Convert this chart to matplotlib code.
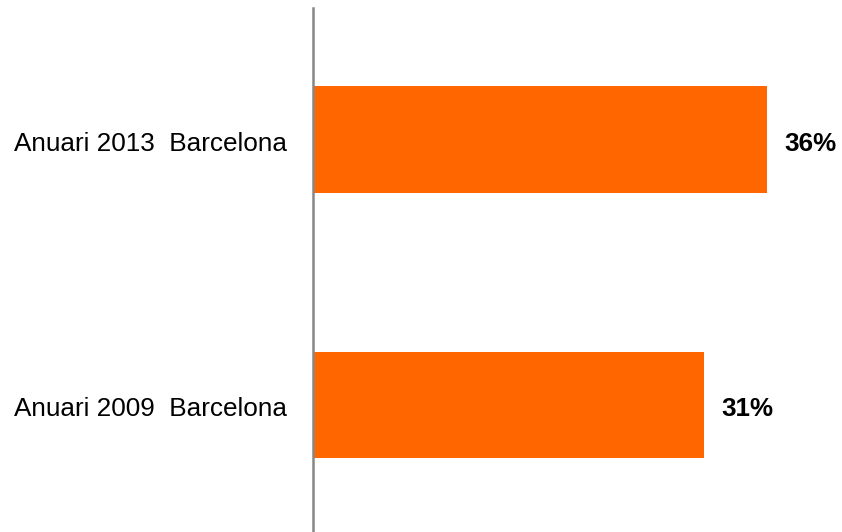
import matplotlib
matplotlib.use("Agg")
import matplotlib.pyplot as plt
from matplotlib.transforms import ScaledTranslation

categories = ["Anuari 2009  Barcelona", "Anuari 2013  Barcelona"]
values = [31, 36]
value_labels = ["31%", "36%"]

plt.rcParams['font.family'] = ['Liberation Sans', 'DejaVu Sans']

W, H = 842, 532
fig = plt.figure(figsize=(W / 100, H / 100), dpi=100)
# axes from x=313 to 842, y from 7 to 537 (pixels from top)
ax = fig.add_axes([313 / W, (H - 537) / H, (W - 313) / W, 530 / H])

ax.barh(range(len(categories)), values, height=0.4, color="#FF6600")
ax.set_xlim(0, (W - 313) / 12.6)
ax.set_ylim(-0.5, 1.5)

for i, (v, lab) in enumerate(zip(values, value_labels)):
    ax.annotate(lab, (v, i), xytext=(13, -3.3), textcoords="offset points",
                ha="left", va="center", fontsize=18.7, fontweight="bold", color="black")

ax.set_yticks(range(len(categories)))
ax.set_yticklabels(categories, fontsize=18.8)
ax.tick_params(axis="y", length=0, pad=18.5)
shift = ScaledTranslation(0, -2 / 100, fig.dpi_scale_trans)
for t in ax.get_yticklabels():
    t.set_transform(t.get_transform() + shift)
ax.set_xticks([])
for s in ["top", "right", "bottom"]:
    ax.spines[s].set_visible(False)
ax.spines["left"].set_color("#878787")
ax.spines["left"].set_linewidth(1.8)
ax.spines["left"].set_bounds(-0.5, 1.5 - 1 / 265)

fig.savefig("out.png", dpi=100)
